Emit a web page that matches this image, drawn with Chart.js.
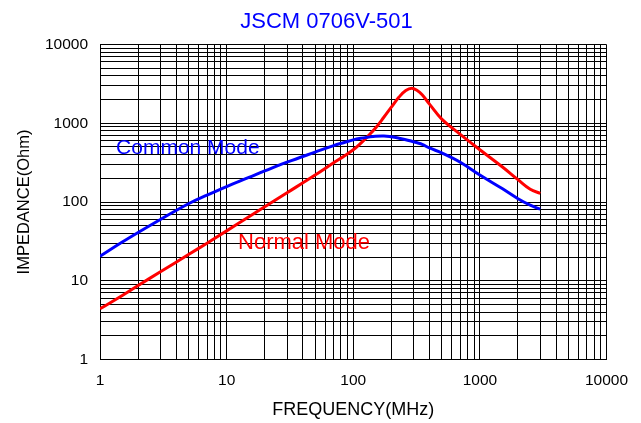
<!DOCTYPE html>
<html>
<head>
<meta charset="utf-8">
<script src="https://cdn.jsdelivr.net/npm/chart.js@4/dist/chart.umd.min.js"></script>
<style>
  html, body { margin: 0; padding: 0; background: #fff; }
  #wrap { width: 641px; height: 423px; position: relative; }
</style>
</head>
<body>
<div id="wrap"><canvas id="chart-impedance"></canvas></div>
<script>
var chartTitle = "JSCM 0706V-501";
var xTitle = "FREQUENCY(MHz)";
var yTitle = "IMPEDANCE(Ohm)";

// frequency points (MHz)
var freq       = [1, 1.5, 2, 3, 5, 7, 10, 15, 20, 30, 50, 70, 85, 100, 115, 130, 150, 175, 200, 230, 260, 290, 320, 350, 400, 500, 700, 1000, 1500, 2000, 2500, 3000];
// impedance (Ohm)
var commonMode = [20.5, 31, 41, 60, 95, 122, 157, 205, 248, 320, 430, 520, 570, 615, 645, 665, 685, 690, 672, 645, 618, 590, 565, 540, 485, 420, 320, 220, 148, 110, 91, 81];
var normalMode = [4.4, 6.5, 8.7, 13, 21.5, 30, 43, 65, 87, 131, 220, 315, 385, 460, 560, 680, 870, 1200, 1600, 2150, 2600, 2780, 2600, 2300, 1750, 1130, 722, 461, 280, 192, 145, 129];

// log axes: decades carry labels, the steps in between only carry gridlines
var decades = [1, 10, 100, 1000, 10000];
var tickLabels = ["1", "10", "100", "1000", "10000"];
var minorSteps = [2, 3, 4, 5, 6, 7, 8, 9];

var curveNames = ["Common Mode", "Normal Mode"];

var gridValues = [];
for (var i = 0; i < decades.length - 1; i++) {
  gridValues.push(decades[i]);
  for (var j = 0; j < minorSteps.length; j++) {
    gridValues.push(decades[i] * minorSteps[j]);
  }
}
gridValues.push(decades[decades.length - 1]);

function toPoints(ys) {
  return freq.map(function(f, k) { return {x: f, y: ys[k]}; });
}

function setGrid(scale) {
  scale.ticks = gridValues.map(function(v) { return {value: v}; });
}

function tickText(value) {
  var k = decades.indexOf(value);
  return k >= 0 ? tickLabels[k] : "";
}

var FONT = '"Liberation Sans", Arial, sans-serif';

// title and curve names drawn on top
var textPlugin = {
  id: 'textPlugin',
  afterDraw: function(chart) {
    var ctx = chart.ctx;
    var xs = chart.scales.x, ys = chart.scales.y;
    ctx.save();
    ctx.fillStyle = '#0000ff';
    ctx.font = '22px ' + FONT;
    ctx.textAlign = 'center';
    ctx.textBaseline = 'alphabetic';
    ctx.fillText(chartTitle, 326.5, 27.5);

    ctx.textAlign = 'left';
    ctx.textBaseline = 'middle';
    ctx.font = '21px ' + FONT;
    ctx.fillStyle = '#0000ff';
    ctx.fillText(curveNames[0], xs.getPixelForValue(1.34), ys.getPixelForValue(485));
    ctx.font = '22px ' + FONT;
    ctx.fillStyle = '#ff0000';
    ctx.fillText(curveNames[1], xs.getPixelForValue(12.3), ys.getPixelForValue(30.6));
    ctx.restore();
  }
};

var chart;
function initChart() {
  var ctx = document.getElementById("chart-impedance").getContext("2d");
  chart = new Chart(ctx, {
    type: "line",
    data: {
      datasets: [{
        label: curveNames[0],
        data: toPoints(commonMode),
        borderColor: '#0000ff',
        borderWidth: 3,
        pointRadius: 0,
        fill: false,
        tension: 0.4
      }, {
        label: curveNames[1],
        data: toPoints(normalMode),
        borderColor: '#ff0000',
        borderWidth: 3,
        pointRadius: 0,
        fill: false,
        tension: 0.4
      }]
    },
    options: {
      responsive: true,
      maintainAspectRatio: false,
      animation: false,
      layout: { padding: { top: 44.5, right: 34.5, left: 0, bottom: 0 } },
      plugins: {
        legend: { display: false },
        tooltip: { enabled: false },
        title: { display: false }
      },
      scales: {
        x: {
          type: 'logarithmic',
          min: 1,
          max: 10000,
          afterBuildTicks: setGrid,
          afterFit: function(scale) { scale.height = 63.5; },
          grid: { color: '#000', lineWidth: 1, drawTicks: false },
          border: { color: '#000', width: 1 },
          ticks: {
            autoSkip: false,
            maxRotation: 0,
            padding: 12,
            color: '#000',
            font: { family: FONT, size: 15.5 },
            callback: tickText
          },
          title: {
            display: true,
            text: xTitle,
            color: '#000',
            font: { family: FONT, size: 18 },
            padding: { top: 0, bottom: 2 }
          }
        },
        y: {
          type: 'logarithmic',
          min: 1,
          max: 10000,
          afterBuildTicks: setGrid,
          afterFit: function(scale) { scale.width = 100; },
          grid: { color: '#000', lineWidth: 1, drawTicks: false },
          border: { color: '#000', width: 1 },
          ticks: {
            autoSkip: false,
            padding: 12,
            color: '#000',
            font: { family: FONT, size: 15.5 },
            callback: tickText
          },
          title: {
            display: true,
            text: yTitle,
            color: '#000',
            font: { family: FONT, size: 16.5 },
            padding: { top: 15, bottom: 0 }
          }
        }
      }
    },
    plugins: [textPlugin]
  });
}

window.addEventListener('load', initChart);
</script>
</body>
</html>
